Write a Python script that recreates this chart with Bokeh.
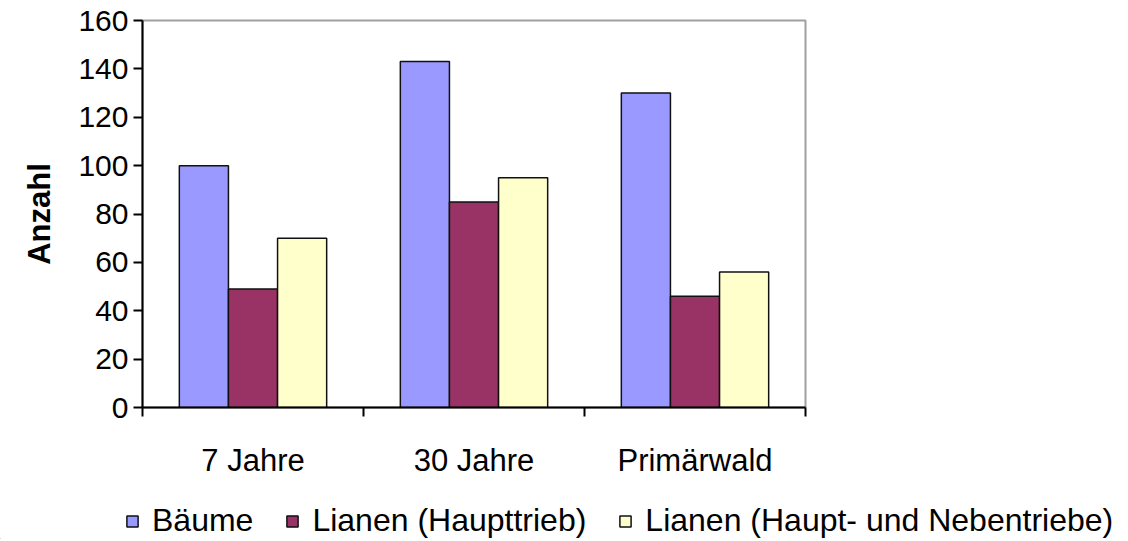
from bokeh.plotting import figure
from bokeh.layouts import column
from bokeh.models import FixedTicker, Range1d, Legend, LegendItem, ColumnDataSource
from bokeh.embed import file_html
from bokeh.resources import INLINE

categories = ["7 Jahre", "30 Jahre", "Primärwald"]
series_names = ["Bäume", "Lianen (Haupttrieb)", "Lianen (Haupt- und Nebentriebe)"]
baeume = [100, 143, 130]
lianen_haupt = [49, 85, 46]
lianen_haupt_neben = [70, 95, 56]
colors = ["#9999FF", "#993366", "#FFFFCC"]
y_ticks = [0, 20, 40, 60, 80, 100, 120, 140, 160]

FONT = "Liberation Sans"
FS = "30px"

W = 1125
H1, H2 = 495, 44
p = figure(width=W, height=H1, output_backend="svg", toolbar_location=None,
           x_range=Range1d(0, len(categories)), y_range=Range1d(0, 160),
           min_border_left=142, min_border_top=20, min_border_right=W - 805,
           min_border_bottom=H1 - 407)
p.frame_align = False
p.grid.visible = False
p.background_fill_color = "white"
p.border_fill_color = "white"
p.outline_line_color = "#a0a0a0"
p.outline_line_width = 2

bw = 1 / 4.5
for k, (vals, col) in enumerate(zip([baeume, lianen_haupt, lianen_haupt_neben], colors)):
    xs = [i + 0.5 + (k - 1) * bw for i in range(len(categories))]
    src = ColumnDataSource(dict(x=xs, top=vals))
    p.vbar(x="x", top="top", width=bw, bottom=0, source=src,
           fill_color=col, line_color="#111111", line_width=1.5)

# y axis
yax = p.yaxis[0]
yax.ticker = FixedTicker(ticks=y_ticks)
yax.minor_tick_line_color = None
yax.major_tick_in = 0
yax.major_tick_out = 9
yax.major_tick_line_color = "black"
yax.major_tick_line_width = 2
yax.axis_line_color = "black"
yax.axis_line_width = 2
yax.major_label_text_font = FONT
yax.major_label_text_font_size = FS
yax.major_label_text_color = "black"
yax.major_label_standoff = 5
yax.axis_label = "Anzahl"
yax.axis_label_text_font = FONT
yax.axis_label_text_font_size = "31px"
yax.axis_label_text_font_style = "bold"
yax.axis_label_text_color = "black"
yax.axis_label_standoff = 18

# x axis
xax = p.xaxis[0]
centers = [i + 0.5 for i in range(len(categories))]
xax.ticker = FixedTicker(ticks=centers, minor_ticks=list(range(len(categories) + 1)))
xax.major_label_overrides = {c: name for c, name in zip(centers, categories)}
xax.major_tick_line_color = None
xax.major_tick_in = 0
xax.major_tick_out = 0
xax.minor_tick_in = 0
xax.minor_tick_out = 9
xax.minor_tick_line_color = "black"
xax.minor_tick_line_width = 2
xax.axis_line_color = "black"
xax.axis_line_width = 2
xax.major_label_text_font = FONT
xax.major_label_text_font_size = "31px"
xax.major_label_text_color = "black"
xax.major_label_standoff = 26

# legend strip
q = figure(width=W, height=H2, output_backend="svg", toolbar_location=None,
           x_range=Range1d(0, 1), y_range=Range1d(0, 1),
           x_axis_location=None, y_axis_location=None,
           min_border=0, min_border_left=0, min_border_right=0,
           min_border_top=0, min_border_bottom=0)
q.frame_align = False
q.grid.visible = False
q.outline_line_color = None
leg_renderers = []
for col in colors:
    # placeholder renderers (outside the visible range) only to carry legend styles
    r = q.vbar(x=[-10], top=[0], width=0.1, fill_color=col, line_color="#111111", line_width=1.5)
    leg_renderers.append(r)

legend = Legend(items=[LegendItem(label=n, renderers=[r]) for n, r in zip(series_names, leg_renderers)],
                orientation="horizontal", location=(125, 0))
legend.label_text_font = FONT
legend.label_text_font_size = "32px"
legend.label_text_color = "black"
legend.glyph_width = 14
legend.glyph_height = 14
legend.label_standoff = 13
legend.spacing = 32
legend.padding = 0
legend.margin = 0
legend.border_line_color = None
legend.background_fill_alpha = 0
q.add_layout(legend, "center")

layout = column(p, q, spacing=0)
open("out.html", "w").write(file_html(layout, INLINE))
